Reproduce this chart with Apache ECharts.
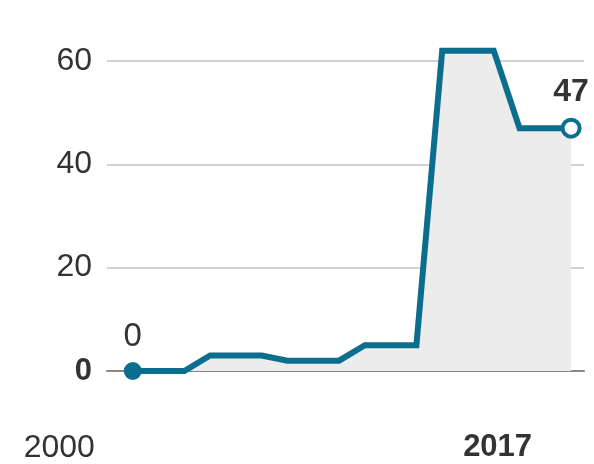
<!DOCTYPE html>
<html>
<head>
<meta charset="utf-8">
<script src="https://cdn.jsdelivr.net/npm/echarts@6/dist/echarts.min.js"></script>
<style>html,body{margin:0;padding:0;background:#fff;}#c{width:594px;height:464px;}</style>
</head>
<body>
<div id="c"></div>
<script>
const years = [2000,2001,2002,2003,2004,2005,2006,2007,2008,2009,2010,2011,2012,2013,2014,2015,2016,2017];
const values = [0,0,0,3,3,3,2,2,2,5,5,5,62,62,62,47,47,47];
const xTickLabels = [2000, 2017];
const yTicks = [0, 20, 40, 60];

const teal = '#0b6e8e';
const txt = '#333333';
const font = 'Liberation Sans, Arial, Helvetica, sans-serif';
const pts = years.map((y,i)=>[y, values[i]]);
const n = pts.length;

const chart = echarts.init(document.getElementById('c'), null, {renderer:'canvas'});
chart.setOption({
  animation:false,
  backgroundColor:'#fff',
  grid:{left:107,right:10,top:61,bottom:92,containLabel:false},
  xAxis:{
    type:'value', min:1999, max:2017.5,
    axisLine:{show:true,onZero:true,lineStyle:{color:'#888888',width:2}},
    axisTick:{show:false},
    splitLine:{show:false},
    axisLabel:{
      customValues:xTickLabels,
      margin:61,
      align:'center',
      padding:[0,147,0,0],
      fontFamily:font,fontSize:32,color:txt,
      formatter:v=> v===xTickLabels[xTickLabels.length-1] ? '{b|'+v+'}' : String(v),
      rich:{b:{fontWeight:'bold',fontFamily:font,fontSize:31,color:txt}}
    }
  },
  yAxis:{
    type:'value', min:0, max:60, interval:20,
    axisLine:{show:false}, axisTick:{show:false},
    splitLine:{show:true,lineStyle:{color:'#d3d3cf',width:2}},
    axisLabel:{
      margin:15, fontFamily:font,fontSize:32,color:txt,
      formatter:v=> v===0 ? '{b|0}' : String(v),
      rich:{b:{fontWeight:'bold',fontFamily:font,fontSize:31,color:txt}}
    }
  },
  series:[
    {
      type:'line', data:pts, symbol:'none', clip:false,
      lineStyle:{color:teal,width:6,join:'miter'},
      areaStyle:{color:'#ececec',opacity:1,origin:'start'},
      z:3
    },
    {
      type:'scatter', data:[pts[0]], symbol:'circle', symbolSize:18,
      itemStyle:{color:teal,opacity:1}, z:5,
      label:{show:true,position:'top',distance:9,formatter:p=>String(p.value[1]),
        fontFamily:font,fontSize:33,color:txt}
    },
    {
      type:'scatter', data:[pts[n-1]], symbol:'circle', symbolSize:17, clip:false,
      itemStyle:{color:'#fff',borderColor:teal,borderWidth:4,opacity:1}, z:5,
      label:{show:true,position:'top',distance:9,formatter:p=>String(p.value[1]),
        fontFamily:font,fontSize:32,fontWeight:'bold',color:txt}
    }
  ]
});
</script>
</body>
</html>
